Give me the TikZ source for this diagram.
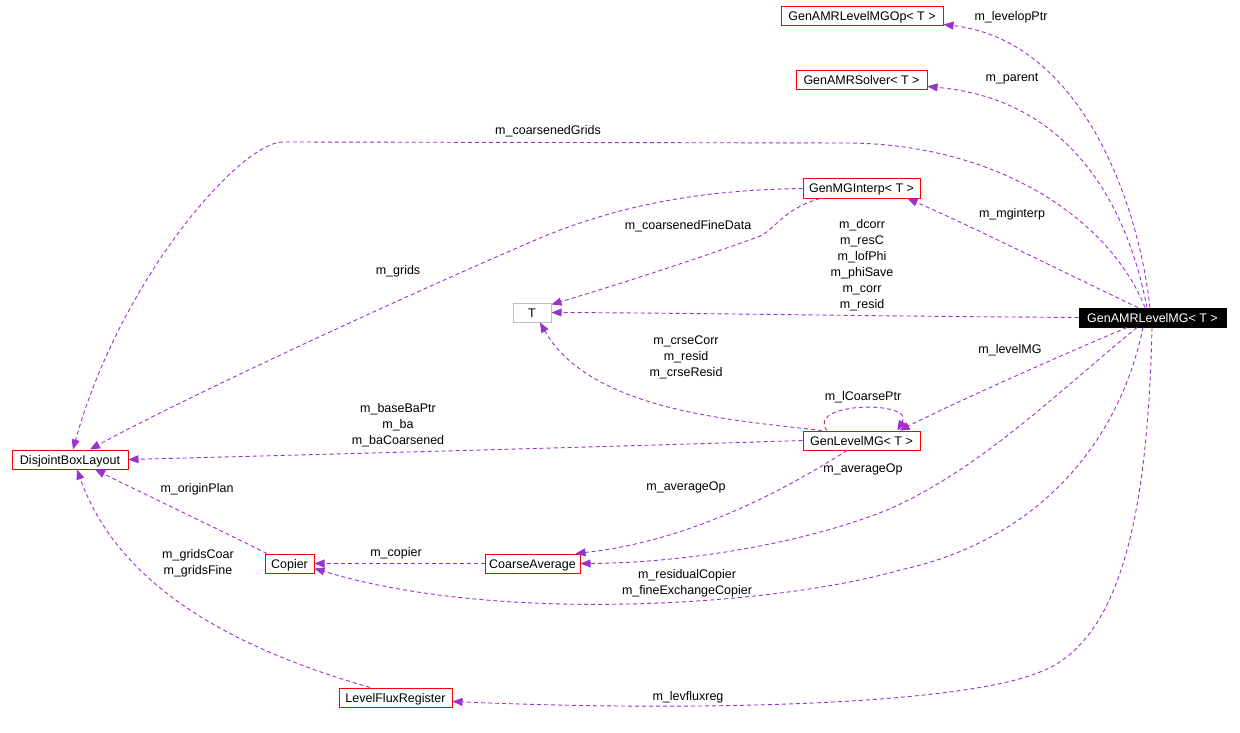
\documentclass[tikz,border=0pt]{standalone}
\usepackage{fontspec}
\setmainfont{Liberation Sans}
\usetikzlibrary{arrows.meta}
\definecolor{edgec}{HTML}{9A32CD}
\definecolor{tgray}{HTML}{BFBFBF}
\begin{document}
\begin{tikzpicture}[x=1pt,y=-1pt,
  cls/.style={draw=red, line width=1pt, minimum height=19pt, inner sep=0pt, text height=9pt, text depth=0pt, font=\fontsize{12.5}{14}\selectfont},
  edge/.style={draw=edgec, line width=0.9pt, dash pattern=on 4pt off 3pt, -{Triangle[length=10pt,width=8pt,fill=edgec]}},
  lbl/.style={font=\fontsize{12.5}{16}\selectfont, align=center, inner sep=0pt}]
\useasboundingbox[fill=white] (0,0) rectangle (1240,733);

% nodes
\node[cls, minimum width=162pt] (opn) at (862,16.5) {GenAMRLevelMGOp< T >};
\node[cls, minimum width=131pt] (gas) at (861.5,80.5) {GenAMRSolver< T >};
\node[cls, minimum width=117pt] (gmi) at (861.5,188.5) {GenMGInterp< T >};
\node[cls, draw=tgray, minimum width=38pt] (t) at (532,312.5) {T};
\node[cls, draw=black, fill=black, text=white, minimum width=147pt] (amr) at (1152.5,317.5) {GenAMRLevelMG< T >};
\node[cls, minimum width=117pt] (glm) at (861.5,440.5) {GenLevelMG< T >};
\node[cls, minimum width=116pt] (dbl) at (70,459.5) {DisjointBoxLayout};
\node[cls, minimum width=49pt] (cop) at (289.5,563.5) {Copier};
\node[cls, minimum width=95pt] (ca) at (532.5,563.5) {CoarseAverage};
\node[cls, minimum width=113pt] (lfr) at (395.5,697.5) {LevelFluxRegister};

% edges
\draw[edge] ([xshift=-2.5pt]amr.north) .. controls (1138,200) and (1080,40) .. ([yshift=2pt]opn.south east);
\draw[edge] ([xshift=-5.5pt]amr.north) .. controls (1130,220) and (1080,100) .. ([yshift=4pt]gas.south east);
\draw[edge] ([xshift=-7.5pt]amr.north) .. controls (1110,220) and (1000,145) .. (850,143) -- (283,142) .. controls (240,142) and (120,280) .. ([xshift=3pt]dbl.north);
\draw[edge] (gmi.west) .. controls (700,190) and (620,205) .. (540,238) .. controls (400,298) and (180,400) .. ([xshift=20pt]dbl.north);
\draw[edge] ([xshift=-41.5pt]gmi.south) .. controls (780,210) and (775,232) .. (755,238) .. controls (680,265) and (600,290) .. ([yshift=-2pt]t.north east);
\draw[edge] ([xshift=-14.5pt]amr.north) .. controls (1100,290) and (980,230) .. ([xshift=-13pt]gmi.south east);
\draw[edge] (amr.west) .. controls (850,316) and (700,313) .. (t.east);
\draw[edge] ([xshift=-39.5pt]glm.north) .. controls (730,420) and (590,410) .. ([xshift=8pt]t.south);
\draw[edge] ([xshift=-34.5pt]glm.north) .. controls (805,402) and (915,400) .. ([xshift=36pt]glm.north);
\draw[edge] ([xshift=-25.5pt]amr.south) .. controls (1050,360) and (950,405) .. ([xshift=38pt]glm.north);
\draw[edge] (glm.west) .. controls (600,447) and (300,455) .. (dbl.east);
\draw[edge] ([xshift=-14.5pt]glm.south) .. controls (800,480) and (700,540) .. ([xshift=-5pt]ca.north east);
\draw[edge] ([xshift=-15.5pt]amr.south) .. controls (1060,390) and (980,470) .. (887,510) .. controls (800,545) and (680,563) .. (ca.east);
\draw[edge] ([xshift=-22.5pt]cop.north) .. controls (220,530) and (140,492) .. ([xshift=25pt]dbl.south);
\draw[edge] (ca.west) -- (cop.east);
\draw[edge] ([xshift=-9.5pt]amr.south) .. controls (1120,440) and (1040,540) .. (900,570) .. controls (780,605) and (500,625) .. ([yshift=-5pt]cop.east);
\draw[edge] ([xshift=-25.5pt]lfr.north) .. controls (240,650) and (120,590) .. ([xshift=7pt]dbl.south);
\draw[edge] ([xshift=-0.5pt]amr.south) .. controls (1148,500) and (1125,640) .. (1040,672) .. controls (960,705) and (700,712) .. ([yshift=-4pt]lfr.east);

% labels
\node[lbl] (l1) at (1011,17) {m\_levelopPtr};
\node[lbl] (l2) at (1012,79) {m\_parent};
\node[lbl] (l3) at (548,131) {m\_coarsenedGrids};
\node[lbl] (l4) at (398,271) {m\_grids};
\node[lbl] (l5) at (688,226) {m\_coarsenedFineData};
\node[lbl] (l6) at (1012,214) {m\_mginterp};
\node[lbl] (l7) at (862,265) {m\_dcorr\\m\_resC\\m\_lofPhi\\m\_phiSave\\m\_corr\\m\_resid};
\node[lbl] (l8) at (686,357) {m\_crseCorr\\m\_resid\\m\_crseResid};
\node[lbl] (l9) at (863,397) {m\_lCoarsePtr};
\node[lbl] (l10) at (1010,350) {m\_levelMG};
\node[lbl] (l11) at (398,425) {m\_baseBaPtr\\m\_ba\\m\_baCoarsened};
\node[lbl] (l12) at (686,487) {m\_averageOp};
\node[lbl] (l13) at (863,469) {m\_averageOp};
\node[lbl] (l14) at (197,489) {m\_originPlan};
\node[lbl] (l15) at (396,553) {m\_copier};
\node[lbl] (l16) at (687,583) {m\_residualCopier\\m\_fineExchangeCopier};
\node[lbl] (l17) at (198,563) {m\_gridsCoar\\m\_gridsFine};
\node[lbl] (l18) at (688,697) {m\_levfluxreg};
\end{tikzpicture}
\end{document}
